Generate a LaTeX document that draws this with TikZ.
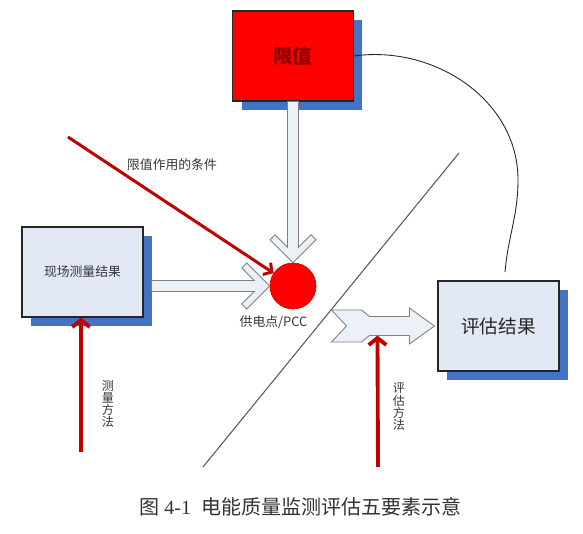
\documentclass[tikz,border=0pt]{standalone}
\usepackage{fontspec}
\setmainfont{Liberation Serif}
\newfontfamily\cjk{Noto Sans CJK SC}
\usetikzlibrary{calc,arrows.meta,shadows}
\definecolor{shadowblue}{RGB}{68,114,196}
\definecolor{boxfill}{RGB}{226,233,245}
\definecolor{arrowfill}{RGB}{236,240,247}
\definecolor{darkred}{RGB}{192,0,0}
\definecolor{limtext}{RGB}{140,0,0}
\definecolor{txt}{RGB}{55,55,55}
\tikzset{
  box/.style={rectangle, draw=black!85, line width=0.6pt, minimum width=2.42cm,
    minimum height=1.8cm, inner sep=0pt,
    drop shadow={shadow xshift=0.18cm, shadow yshift=-0.18cm, fill=shadowblue, opacity=1}},
  fat/.style={draw=black!50, fill=arrowfill, line width=0.5pt, line join=miter},
  redarrow/.style={draw=darkred, line width=2.2pt, -{Straight Barb[length=4pt,width=10pt]}},
  reddiag/.style={draw=darkred, line width=1.7pt, -{Straight Barb[length=3.5pt,width=8pt]}},
  divline/.style={draw=black!65, line width=0.6pt},
  thin/.style={draw=black!85, line width=0.5pt},
  small/.style={font=\cjk\fontsize{7.3}{8}\selectfont, text=txt},
  vert/.style={font=\cjk\fontsize{6.9}{7}\selectfont, text=txt, align=center, inner sep=0pt}
}
\begin{document}
\begin{tikzpicture}[x=0.02cm,y=-0.02cm]
\useasboundingbox[fill=white] (0,0) rectangle (583,534);
% nodes
\node[box, fill=red, font=\cjk\bfseries\fontsize{11}{12}\selectfont, text=limtext] (lim) at (293,56) {限值};
\node[box, fill=boxfill, font=\cjk\fontsize{7.3}{8}\selectfont, text=txt] (site) at (82.5,272) {现场测量结果};
\node[box, fill=boxfill, font=\cjk\fontsize{10.6}{12}\selectfont, text=black!85] (eval) at (498.5,326) {评估结果};
\node[circle, fill=red, draw=red!85!black, line width=0.4pt, minimum size=0.92cm, inner sep=0pt] (circ) at (293,286) {};
\node[small] (pcc) at (273.5,322) {供电点/PCC};
\node[small] (cond) at (172,165) {限值作用的条件};
\node[vert] (mm) at (108,404) {测\\量\\方\\法};
\node[vert] (em) at (399,407) {评\\估\\方\\法};
\node[font=\fontsize{11.4}{13}\selectfont, text=black!80] (cap) at (300.5,507) {{\cjk 图} 4-1\ \ {\cjk 电能质量监测评估五要素示意}};
% coordinates
\coordinate (ht) at (circ.west);
\path (site.east |- circ.west) ++(8,0) coordinate (hs);
\coordinate (vt) at (circ.north);
\path (eval.west) ++(-3,0) coordinate (rt);
\path (rt) ++(-57,9.5) coordinate (rb);
\coordinate (d1) at (459,153);
\coordinate (d2) at (203,467);
\coordinate (ce) at (505,272);
\coordinate (rx) at (518,180);
\coordinate (c0) at (68,137);
\coordinate (m0) at (81,452);
\coordinate (e0) at (378,467);
% dividing line and curve
\draw[divline] (d1) -- (d2);
\draw[thin] (lim.east) to[out=8,in=90] (rx) to[out=-90,in=85] (ce);
% fat arrows
\draw[fat] ($(lim.south)+(-5.5,0)$) -- ($(vt)+(-5.5,-15.5)$) -- ($(vt)+(-18,-28)$) -- ($(vt)+(-23,-23)$) -- (vt)
  -- ($(vt)+(23,-23)$) -- ($(vt)+(18,-28)$) -- ($(vt)+(5.5,-15.5)$) -- ($(lim.south)+(5.5,0)$) -- cycle;
\draw[fat] ($(hs)+(0,-5.5)$) -- ($(ht)+(-15.5,-5.5)$) -- ($(ht)+(-28,-18)$) -- ($(ht)+(-23,-23)$) -- (ht)
  -- ($(ht)+(-23,23)$) -- ($(ht)+(-28,18)$) -- ($(ht)+(-15.5,5.5)$) -- ($(hs)+(0,5.5)$) -- cycle;
\draw[fat] ($(rt)+(-103,-16)$) -- ($(rt)+(-73,-16)$) -- ($(rt)+(-65,-9.5)$) -- ($(rt)+(-25,-9.5)$)
  -- ($(rt)+(-25,-18)$) -- (rt) -- ($(rt)+(-25,18)$) -- ($(rt)+(-25,9.5)$) -- ($(rt)+(-65,9.5)$)
  -- ($(rt)+(-73,16)$) -- ($(rt)+(-103,16)$) -- ($(rt)+(-88,0)$) -- cycle;
% red arrows
\draw[reddiag] (c0) -- (circ);
\draw[redarrow] (m0) -- (m0 |- site.south);
\draw[redarrow] (e0) -- (rb);
\end{tikzpicture}
\end{document}
